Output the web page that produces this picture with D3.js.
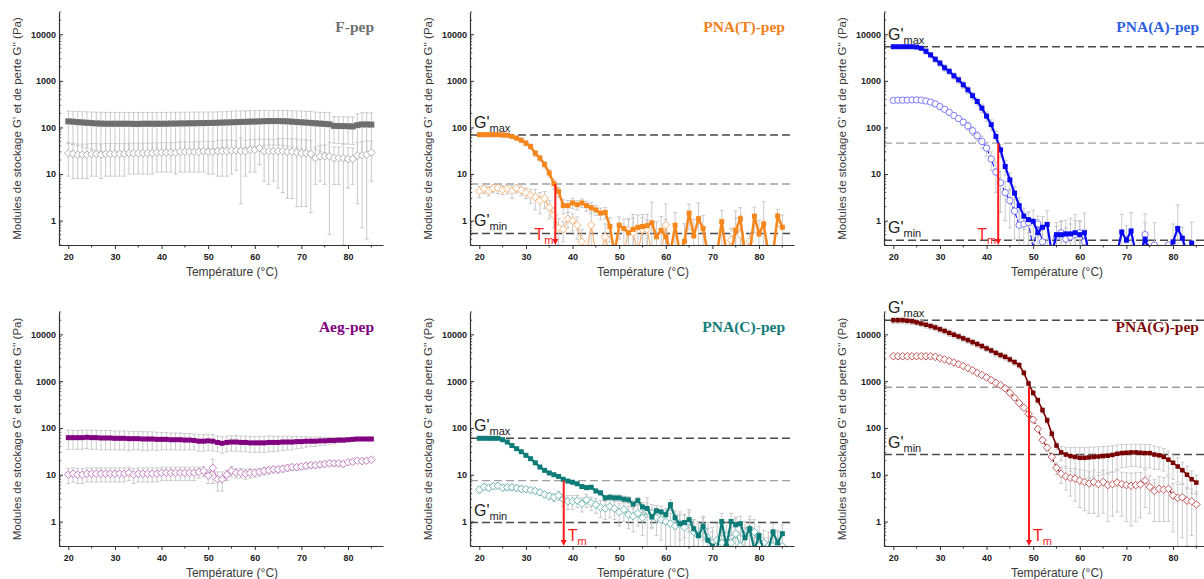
<!DOCTYPE html>
<html><head><meta charset="utf-8">
<script src="https://cdn.jsdelivr.net/npm/d3@7"></script>
<style>body{margin:0;background:#fff}svg{display:block}</style>
</head><body><svg id="c" width="1204" height="579"></svg>
<script>
// Temperatures (°C)
const temps = [20,21,22,23,24,25,26,27,28,29,30,31,32,33,34,35,36,37,38,39,40,41,42,43,44,45,46,47,48,49,50,51,52,53,54,55,56,57,58,59,60,61,62,63,64,65,66,67,68,69,70,71,72,73,74,75,76,77,78,79,80,81,82,83,84,85];
const xTicks = [20,30,40,50,60,70,80];
const yTicks = [1,10,100,1000,10000];

// F-pep
const fGp = [135,133,130,128,126,124,122,121,120,120,120,120,120,120,119,119,120,120,120,120,120,120,121,121,122,122,123,123,124,124,125,125,126,127,128,129,130,131,132,133,134,135,136,137,137,137,136,135,133,131,129,127,125,123,121,119,117,108,107,107,106,105,112,116,116,115];
const fGpp = [28,27,26,26,26,27,27,26,27,27,27,27,27,28,28,28,28,28,28,29,29,29,29,29,30,30,30,30,30,31,30,30,31,31,31,32,32,31,31,33,33,36,31,31,31,31,31,30,30,29,28,28,27,22,24,24,24,22,22,22,21,21,25,25,26,29];
const fErrGp = [90,90,90,90,90,90,90,90,90,90,90,90,90,90,90,90,90,90,90,90,90,90,90,90,90,90,90,90,90,90,90,90,90,90,90,95,95,95,95,95,95,95,95,95,95,95,95,95,95,95,95,95,95,90,90,90,90,62,62,62,62,62,85,90,90,90];
const fErrGpp = [19,19,18,18,18,18,18,18,18,18,18,18,18,18,18,18,18,18,18,18,18,18,18,19,19,19,19,19,19,20,20,20,22,22,22,22,20,28.7,22,22,22,20,24,25,24,26,27,27,27,27,26,26,25.5,16,17,18,23.5,16,16,21.7,16,15,22.7,24.3,25.6,22];

// PNA(T)-pep
const tGp = [70,70,70,70,70,69,68,64,59,53,46,39,28,22,16,10.5,6.2,4.2,2.1,2.1,2.4,2.2,2.4,2.1,1.9,1.7,1.45,1.5,0.75,0.2,0.8,0.68,0.55,0.65,0.72,0.75,0.78,0.9,0.45,0.62,0.45,0.2,0.8,0.2,0.36,1.45,0.47,1.1,0.68,0.2,0.2,0.2,0.95,0.2,0.2,0.62,1.1,0.2,0.2,1.25,0.52,0.85,0.2,0.2,1.25,0.72];
const tGpp = [4.3,4.8,4.4,4.9,5.0,4.6,4.8,4.4,4.9,4.5,4.0,3.5,3.2,2.7,3.0,1.9,1.3,0.7,0.65,1.1,1.0,0.8,0.35,0.2,0.8,0.2,0.2,0.45,0.2,0.2,0.2,0.2,0.6,0.55,0.2,0.65,0.65,0.2,0.2,0.2,0.8,0.2,0.2,0.2,0.2,0.2,0.2,0.2,0.2,0.2,0.2,0.2,0.2,0.2,0.38,0.65,0.5,0.2,0.36,0.2,0.2,0.2,0.2,0.2,0.2,0.2];
const tErrGp = [7,7,7,7,7,7,7,7,6,6,6,5,4,3,2.5,2,1.5,1,0.7,0.6,0.6,0.5,0.5,0.5,0.5,0.4,0.4,0.4,0.4,0,0.4,0.4,0.5,0.5,0.6,0.6,0.6,1.6,0.5,0.6,0.6,0,0.7,0,0.5,0.8,0.6,1.3,0.6,0,0,0,0.7,0,0,1.0,0.8,0,0,0.7,0.5,1.7,0,0,0.5,0.6];
const tErrGpp = [1.2,1.0,1.0,1.0,1.2,1.0,1.0,1.4,1.0,1.0,1.0,1.2,1.5,1.3,1.2,0.8,0.6,0.4,0.3,0.4,0.4,0.4,0.3,0,0.8,0,0,0.4,0,0,0,0,0.5,0.8,0,0.5,0.4,0,0,0,1.5,0,0,0,0,0,0,0,0,0,0,0,0,0,0.3,0.5,0.6,0,0.2,0,0,0,0,0,0,0];

// PNA(A)-pep
const aGp = [5400,5400,5400,5400,5400,5300,5000,4300,3600,2900,2400,1900,1600,1280,1050,820,640,480,360,260,175,115,64,33,14.5,7.5,3.9,2.1,1.25,1.05,0.97,0.55,0.72,0.83,0.2,0.5,0.5,0.52,0.52,0.55,0.5,0.55,0.2,0.2,0.2,0.2,0.2,0.2,0.2,0.57,0.38,0.6,0.2,0.2,0.4,0.2,0.2,0.2,0.2,0.2,0.35,0.68,0.42,0.2,0.33,0.2];
const aGpp = [380,385,385,385,390,390,385,370,350,320,280,245,210,180,155,130,108,85,66,50,36,21,11,6.5,4.0,2.7,1.6,0.8,0.85,0.9,0.25,0.85,0.35,0.2,0.2,0.45,0.55,0.4,0.45,0.5,0.55,0.35,0.2,0.2,0.2,0.2,0.2,0.2,0.2,0.2,0.2,0.2,0.2,0.2,0.5,0.25,0.3,0.2,0.2,0.3,0.2,0.2,0.2,0.2,0.2,0.2];
const aErrGp = [250,250,250,250,250,260,300,600,500,400,350,300,250,200,170,140,110,90,70,55,40,30,18,10,5,3,1.5,1.0,0.6,0.5,0.7,0.5,0.5,0.8,0,0.4,0.5,0.5,0.6,0.8,0.5,0.9,0,0,0,0,0,0,0,0.8,0.4,0.9,0,0,1.0,0,0.7,0,0,0,0.5,1.5,0.3,0,0.6,0];
const aErrGpp = [20,20,20,20,20,20,20,20,20,20,25,25,22,20,20,20,20,18,15,15,12,9,7,5,3,2,1.2,0.8,0.6,0.6,0,0.4,0.3,0,0,0.3,0.4,0.3,0.4,0.5,0.4,0.3,0,0,0,0,0,0,0,0,0,0,0,0,0.4,0,0,0,0,0,0,0,0,0,0,0];

// Aeg-pep
const eGp = [62,62,62,62,63,62,62,61,61,61,60,60,60,59,59,59,58,58,58,57,57,57,56,56,56,55,55,54,52,52,53,52,49,47,49,50,50,49,49,48,48,48,48,49,49,49,50,50,50,51,51,52,52,52,53,53,54,54,55,55,56,57,58,58,58,58];
const eGpp = [10,10.5,10,10,10.5,10.5,10.5,10.5,10.5,10.5,10.5,10.5,10.5,11,10,10.5,10.5,10.5,10.5,10.5,11,11,11,11,11,11,11,11,11.5,12,9.5,14,8,8,10,12,11,11,10.5,11,11,11.5,12,12.5,13,13,13.5,14,14.5,14.5,15,15.5,16,16,16.5,17,17.5,17.5,17.5,17,18.5,19,20,19.5,20,21];
const eErrGp = [27,27,27,27,27,27,27,27,27,27,26,26,26,26,25,25,25,25,24,24,23,23,22,22,22,21,21,20,20,20,20,20,18,18,18,18,18,18,18,18,18,18,18,18,18,17,17,16,16,15,14,13,12,12,11,10,9,8,7,6,5,4,4,4,4,4];
const eErrGpp = [3.5,3.5,3.5,3.5,3.5,3.5,3.5,3.5,3.5,3.5,3.5,3.5,3.5,3.5,3.5,3.5,3.5,3.5,3.5,3.5,3.5,3.5,3.5,3.5,3.5,3.5,3.5,3.5,3,3,3,7.5,3.5,3.5,2.5,3,2.5,2.5,2.5,2.5,2.2,2.2,2.2,2.2,2.2,2.2,2.2,2.2,2.2,2.2,2.2,2.2,2.2,2.2,2.2,2.2,2.2,2.2,2.2,2.2,2,2,2,2,2,2];

// PNA(C)-pep
const cGp = [60,60,60,60,60,56,50,42,36,31,26,22,18,14.6,12.4,10.9,10,9.2,8.0,7.3,6.9,6.4,5.6,5.3,5.4,4.5,4.1,3.2,3.3,3.2,3.2,3.0,2.9,2.35,2.8,2.05,1.9,1.25,1.7,1.6,1.4,2.3,1.2,0.9,0.95,1.1,0.7,0.5,0.8,0.4,0.3,0.25,1.0,0.3,1.0,0.85,0.9,0.45,0.7,0.25,0.5,0.25,0.25,0.6,0.35,0.55];
const cGpp = [4.8,5.5,5.3,5.7,5.8,5.3,5.4,5.4,5.2,5.0,4.9,4.7,4.5,4.2,3.8,3.5,3.3,3.6,3.0,2.7,2.7,2.8,2.4,2.9,2.5,2.3,2.0,1.9,2.1,1.9,1.6,1.8,1.4,1.3,1.5,1.2,1.7,1.5,1.2,1.1,1.0,0.9,0.8,0.9,0.75,1.0,0.6,0.5,0.7,0.45,0.35,0.4,0.35,0.5,0.35,0.55,0.3,0.5,0.7,0.6,0.3,0.35,0.3,0.3,0.3,0.3];
const cErrGp = [3,3,3,3,3,3,3,3,2,2,2,1.5,1.2,1,0.8,0.6,0.5,0.5,0.5,0.4,0.4,0.4,0.4,0.4,0.4,0.4,0.4,0.4,0.5,0.5,0.5,0.5,0.5,0.5,0.5,0.5,0.6,0.5,0.5,0.5,0.5,0.6,0.5,0.5,0.5,0.5,0.4,0.4,0.4,0.3,0.3,0.2,0.5,0.2,0.5,0.4,0.4,0.3,0.4,0.2,0.3,0.2,0.2,0.3,0.3,0.3];
const cErrGpp = [0.8,0.8,0.8,0.8,0.8,0.8,0.8,0.8,0.7,0.7,0.6,0.6,0.6,0.6,0.6,0.6,0.6,0.8,0.9,0.9,0.9,0.8,0.8,0.9,0.8,0.8,0.8,0.8,0.9,0.8,0.8,0.8,0.7,0.7,0.7,0.7,1.5,0.8,0.7,0.7,0.7,0.6,0.6,0.7,0.6,0.8,0.5,0.5,0.6,0.5,0.4,0.5,0.4,0.5,0.4,0.6,0.3,0.5,0.6,0.5,0.3,0.3,0.3,0.3,0.3,0.3];

// PNA(G)-pep
const gGp = [20000,20000,20000,19500,19000,18000,17000,16000,15000,14000,12800,11800,10700,9800,9000,8200,7500,6800,6200,5600,5000,4500,4000,3600,3300,2900,2550,2200,1500,890,560,390,240,145,75,42,30,27,25,24,23,23,23.5,24,24.5,25,25.5,26.5,28,29,29.5,30,30,29.5,29,29,27,26,24,21,18,15,12.5,10,8,6.8];
const gGpp = [3400,3400,3400,3400,3400,3400,3400,3400,3400,3300,3100,2900,2700,2500,2300,2100,1900,1700,1500,1350,1200,1050,920,820,700,560,440,340,270,200,150,95,55,38,24,14,10.5,9.2,8.5,8.2,7.5,7.0,6.5,7.0,6.3,7.0,6.0,6.3,6.8,6.3,6.0,5.8,6.0,6.2,7.5,5.5,4.5,5.0,4.8,5.0,3.6,3.2,3.3,2.8,2.7,2.3];
const gErrGp = [3000,3000,3000,2900,2800,2700,2500,2400,2200,2100,1900,1800,1600,1500,1300,1200,1100,1000,900,800,700,650,600,520,480,420,370,300,200,120,80,55,35,22,12,8,10,12,13,14,15,15,15,15,15,15,15,15,15,15,15,15,15,15,15,15,14,13,12,11,10,8,6,5,4,3];
const gErrGpp = [400,400,400,400,400,400,400,400,400,380,350,330,300,280,250,230,210,190,170,150,130,120,100,90,80,65,50,40,30,25,18,12,8,6,5,4,4,4.5,5,5.5,5.5,5.3,5,5.5,5,5.5,5,5,5.2,5,5,5,5,5,5.5,4,3.5,4,3.8,4,3,3,2.85,2.5,2.2,2];

// Reference levels: G'max, midpoint, G'min, Tm
const refT = {gmax: 69, mid: 6.1, gmin: 0.53, tm: 36.3, tmSide: "left"};
const refA = {gmax: 5400, mid: 46, gmin: 0.38, tm: 42.5, tmSide: "left"};
const refC = {gmax: 60, mid: 7.5, gmin: 0.95, tm: 38.1, tmSide: "right"};
const refG = {gmax: 20000, mid: 740, gmin: 27, tm: 49.1, tmSide: "right"};

const panels = [
  {name:"F-pep", col:0, row:0, gp:fGp, gpp:fGpp, egp:fErrGp, egpp:fErrGpp, color:"#6e6e6e", light:"#a8a8a8", title:"#707070", mk:"diamond", dash:null, lw:1.5, sq:6, ref:null},
  {name:"PNA(T)-pep", col:1, row:0, gp:tGp, gpp:tGpp, egp:tErrGp, egpp:tErrGpp, color:"#f7861c", light:"#f9ad6a", title:"#f08020", mk:"diamond", dash:null, lw:2.5, sq:5, ref:refT},
  {name:"PNA(A)-pep", col:2, row:0, gp:aGp, gpp:aGpp, egp:aErrGp, egpp:aErrGpp, color:"#0a0af0", light:"#6e6eff", title:"#2f5fe0", mk:"circle", dash:"5,2", lw:2.2, sq:5, ref:refA},
  {name:"Aeg-pep", col:0, row:1, gp:eGp, gpp:eGpp, egp:eErrGp, egpp:eErrGpp, color:"#800080", light:"#c070c0", title:"#800080", mk:"diamond", dash:null, lw:1.5, sq:5, ref:null},
  {name:"PNA(C)-pep", col:1, row:1, gp:cGp, gpp:cGpp, egp:cErrGp, egpp:cErrGpp, color:"#0d7c78", light:"#5eb0aa", title:"#137b77", mk:"diamond", dash:null, lw:2.2, sq:5, ref:refC},
  {name:"PNA(G)-pep", col:2, row:1, gp:gGp, gpp:gGpp, egp:gErrGp, egpp:gErrGpp, color:"#7a0000", light:"#c04848", title:"#7f0a0a", mk:"diamond", dash:"4,2", lw:1.6, sq:4.5, ref:refG}
];

const colLeft = [59, 470, 884], plotW = 324;
const rowTop = [12, 312], rowBot = [245, 546];
const svg = d3.select("#c");
const defs = svg.append("defs");

panels.forEach((p, i) => {
  const left = colLeft[p.col], top = rowTop[p.row], bot = rowBot[p.row];
  const x = d3.scaleLinear().domain([18, 87.5]).range([left, left + plotW]);
  const y = d3.scaleLog().domain([0.3, 30000]).range([bot, top]);
  const g = svg.append("g");
  const cid = "clip" + i;
  defs.append("clipPath").attr("id", cid).append("rect")
    .attr("x", left).attr("y", top - 2).attr("width", plotW + 3).attr("height", bot - top + 2);

  // reference dashed lines
  if (p.ref) {
    const rl = [[p.ref.gmax, "#4a4a4a"], [p.ref.mid, "#a0a0a0"], [p.ref.gmin, "#4a4a4a"]];
    g.selectAll("line.ref").data(rl).join("line").attr("class", "ref")
      .attr("x1", left).attr("x2", left + plotW)
      .attr("y1", d => y(d[0])).attr("y2", d => y(d[0]))
      .attr("stroke", d => d[1]).attr("stroke-width", 1.4).attr("stroke-dasharray", "8,4");
  }

  const data = p.gp.map((v, k) => ({t: temps[k], gp: v, gpp: p.gpp[k], egp: p.egp[k], egpp: p.egpp[k]}));
  const dg = g.append("g").attr("clip-path", `url(#${cid})`);

  // error bars
  const errs = [];
  data.forEach(d => {
    if (d.egpp > 0) errs.push({t: d.t, lo: d.gpp - d.egpp, hi: d.gpp + d.egpp});
    if (d.egp > 0) errs.push({t: d.t, lo: d.gp - d.egp, hi: d.gp + d.egp});
  });
  const yc = v => v > 0.05 ? y(v) : bot + 10;
  const eb = dg.append("g").attr("stroke", "#c4c4c4").attr("stroke-width", 0.9).attr("fill", "none");
  eb.selectAll("line.v").data(errs).join("line").attr("class", "v")
    .attr("x1", d => x(d.t)).attr("x2", d => x(d.t)).attr("y1", d => yc(d.lo)).attr("y2", d => y(d.hi));
  eb.selectAll("line.h").data(errs).join("line").attr("class", "h")
    .attr("x1", d => x(d.t) - 2).attr("x2", d => x(d.t) + 2).attr("y1", d => y(d.hi)).attr("y2", d => y(d.hi));
  eb.selectAll("line.l").data(errs.filter(d => d.lo > 0.05)).join("line").attr("class", "l")
    .attr("x1", d => x(d.t) - 2).attr("x2", d => x(d.t) + 2).attr("y1", d => y(d.lo)).attr("y2", d => y(d.lo));

  // G'' line + markers
  const lineGpp = d3.line().x(d => x(d.t)).y(d => y(d.gpp));
  dg.append("path").datum(data).attr("d", lineGpp).attr("fill", "none")
    .attr("stroke", p.dash ? p.color : p.light).attr("stroke-width", 1.1)
    .attr("stroke-dasharray", p.dash);
  if (p.mk === "circle") {
    dg.selectAll("circle.m").data(data).join("circle").attr("class", "m")
      .attr("cx", d => x(d.t)).attr("cy", d => y(d.gpp)).attr("r", 3.2)
      .attr("fill", "#fff").attr("stroke", p.light).attr("stroke-width", 0.9);
  } else {
    const r = 3.8;
    dg.selectAll("path.m").data(data).join("path").attr("class", "m")
      .attr("d", d => { const cx = x(d.t), cy = y(d.gpp); return `M${cx},${cy - r}L${cx + r},${cy}L${cx},${cy + r}L${cx - r},${cy}Z`; })
      .attr("fill", "#fff").attr("stroke", p.light).attr("stroke-width", 0.9);
  }

  // G' line + markers
  const lineGp = d3.line().x(d => x(d.t)).y(d => y(d.gp));
  dg.append("path").datum(data).attr("d", lineGp).attr("fill", "none")
    .attr("stroke", p.color).attr("stroke-width", p.lw);
  dg.selectAll("rect.m").data(data).join("rect").attr("class", "m")
    .attr("x", d => x(d.t) - p.sq / 2).attr("y", d => y(d.gp) - p.sq / 2)
    .attr("width", p.sq).attr("height", p.sq).attr("fill", p.color);

  // axes
  const ax = g.append("g").attr("transform", `translate(0,${bot})`)
    .call(d3.axisBottom(x).tickValues(xTicks).tickSizeInner(4).tickSizeOuter(0).tickPadding(5).tickFormat(d3.format("d")));
  const ay = g.append("g").attr("transform", `translate(${left},0)`)
    .call(d3.axisLeft(y).tickValues(yTicks).tickSizeInner(-4).tickSizeOuter(0).tickPadding(3).tickFormat(d3.format("d")));
  [ax, ay].forEach(a => {
    a.select(".domain").attr("stroke", "#333").attr("stroke-width", 1.2);
    a.selectAll(".tick line").attr("stroke", "#333").attr("stroke-width", 1);
    a.selectAll("text").attr("font-family", "Arial, 'Liberation Sans', sans-serif")
      .attr("font-weight", "bold").attr("font-size", 9).attr("fill", "#222");
  });
  // minor ticks
  const minorX = [25,35,45,55,65,75,85];
  g.selectAll("line.mx").data(minorX).join("line").attr("class", "mx")
    .attr("x1", d => x(d)).attr("x2", d => x(d)).attr("y1", bot).attr("y2", bot + 2.5)
    .attr("stroke", "#333").attr("stroke-width", 1);
  const minorY = [];
  [0.1, 1, 10, 100, 1000, 10000].forEach(dec => { for (let m = 2; m <= 9; m++) { const v = dec * m; if (v >= 0.3 && v <= 30000) minorY.push(v); } });
  g.selectAll("line.my").data(minorY).join("line").attr("class", "my")
    .attr("x1", left).attr("x2", left + 2.2).attr("y1", d => y(d)).attr("y2", d => y(d))
    .attr("stroke", "#333").attr("stroke-width", 0.8);

  // axis titles
  g.append("text").attr("x", left + plotW / 2 + 11).attr("y", bot + 31)
    .attr("text-anchor", "middle").attr("font-family", "Arial, 'Liberation Sans', sans-serif")
    .attr("font-size", 12).attr("fill", "#3a3a3a").text("Température (°C)");
  g.append("text").attr("transform", `translate(${left - 38},${(top + bot) / 2}) rotate(-90)`)
    .attr("text-anchor", "middle").attr("font-family", "Arial, 'Liberation Sans', sans-serif")
    .attr("font-size", 11.5).attr("fill", "#3a3a3a").text("Modules de stockage G' et de perte G'' (Pa)");

  // panel title
  g.append("text").attr("x", left + plotW - 9).attr("y", top + 20)
    .attr("text-anchor", "end").attr("font-family", "'Liberation Serif', 'Times New Roman', serif")
    .attr("font-weight", "bold").attr("font-size", 15.5).attr("fill", p.title).text(p.name);

  // annotations
  if (p.ref) {
    const lab = (val, sub) => {
      const t = g.append("text").attr("x", left + 4).attr("y", y(val) - 7)
        .attr("font-family", "Arial, 'Liberation Sans', sans-serif").attr("font-size", 16).attr("fill", "#222");
      t.append("tspan").text("G'");
      t.append("tspan").attr("font-size", 11).attr("dy", 4).text(sub);
    };
    lab(p.ref.gmax, "max");
    lab(p.ref.gmin, "min");
    const tx = x(p.ref.tm);
    g.append("line").attr("x1", tx).attr("x2", tx).attr("y1", y(p.ref.mid)).attr("y2", bot - 5)
      .attr("stroke", "#ff1a1a").attr("stroke-width", 2);
    g.append("path").attr("d", `M${tx - 3},${bot - 6}L${tx + 3},${bot - 6}L${tx},${bot}Z`).attr("fill", "#ff1a1a");
    const tl = g.append("text").attr("y", bot - 5).attr("font-family", "Arial, 'Liberation Sans', sans-serif")
      .attr("font-size", 16).attr("fill", "#ff1a1a");
    if (p.ref.tmSide === "left") tl.attr("x", tx - 2).attr("text-anchor", "end");
    else tl.attr("x", tx + 4);
    tl.append("tspan").text("T");
    tl.append("tspan").attr("font-size", 11).attr("dy", 4).text("m");
  }
});
</script></body></html>
